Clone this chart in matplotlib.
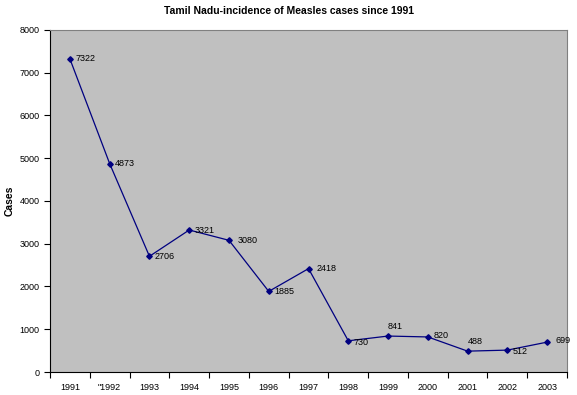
import matplotlib
matplotlib.use('Agg')
import matplotlib.pyplot as plt

plt.rcParams['font.family'] = ['Liberation Sans', 'DejaVu Sans']

# data
years = ['1991', '"1992', '1993', '1994', '1995', '1996', '1997',
         '1998', '1999', '2000', '2001', '2002', '2003']
cases = [7322, 4873, 2706, 3321, 3080, 1885, 2418, 730, 841, 820, 488, 512, 699]
# label offsets in points (dx, dy)
label_offsets = [(4, 0), (4, 0), (4, 0), (4, 0), (6, 0), (4, 0), (6, 0),
                 (4, -1), (0, 7), (4, 1), (0, 7), (4, -1), (6, 1)]

fig = plt.figure(figsize=(5.77, 3.95), dpi=100)
ax = fig.add_axes([0.0867, 0.0582, 0.896, 0.866])
ax.set_facecolor('#c0c0c0')

x = list(range(len(years)))
ax.plot(x, cases, color='#000080', linewidth=0.9, marker='D', markersize=2.8)

for xi, val, (dx, dy) in zip(x, cases, label_offsets):
    ax.annotate(str(val), (xi, val), xytext=(dx, dy), textcoords='offset points',
                ha='left', va='center', fontsize=6.5)

ax.set_xlim(-0.5, len(years) - 0.5)
ax.set_ylim(0, 8000)
ax.set_yticks(range(0, 8001, 1000))
ax.set_xticks(x)
ax.set_xticklabels(years)
ax.set_xticks([i + 0.5 for i in range(-1, len(years))], minor=True)
ax.tick_params(axis='x', which='major', length=0, labelsize=6.5, pad=8)
ax.tick_params(axis='x', which='minor', length=4, direction='out', width=0.8)
ax.tick_params(axis='y', length=4, labelsize=6.5, width=0.8)

for side in ['top', 'right']:
    ax.spines[side].set_color('#808080')
    ax.spines[side].set_linewidth(0.8)
for side in ['left', 'bottom']:
    ax.spines[side].set_color('black')
    ax.spines[side].set_linewidth(0.8)

ax.set_ylabel('Cases', fontsize=7.5, fontweight='bold')
ax.yaxis.set_label_coords(-0.068, 0.5)
fig.suptitle('Tamil Nadu-incidence of Measles cases since 1991', fontsize=7.5,
             fontweight='bold', y=0.985)

fig.savefig('out.png', dpi=100)
